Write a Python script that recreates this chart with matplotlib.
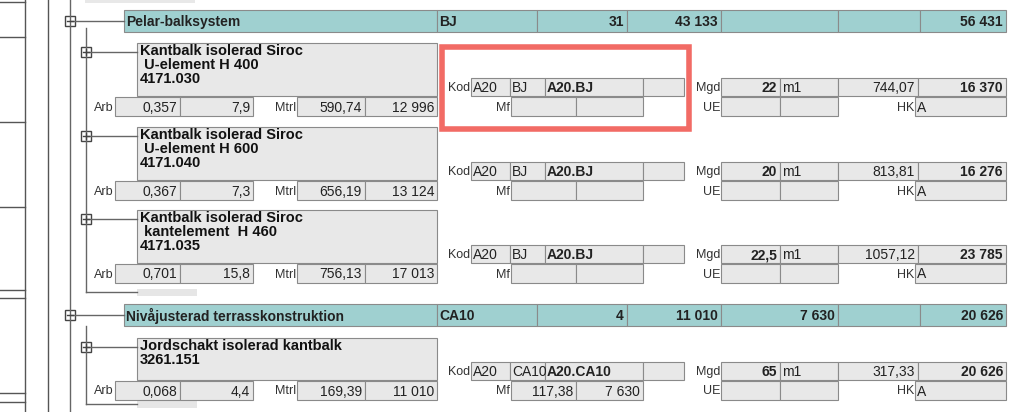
import matplotlib.pyplot as plt
from matplotlib.patches import Rectangle

plt.rcParams['font.family'] = ['Liberation Sans', 'DejaVu Sans']

# group headers: name, code, count, arb, mf, total
groups = [
    ('Pelar-balksystem', 'BJ', '31', '43 133', '', '56 431'),
    ('Nivåjusterad terrasskonstruktion', 'CA10', '4', '11 010', '7 630', '20 626'),
]
# items
item_names = [
    ['Kantbalk isolerad Siroc', ' U-element H 400', '4171.030'],
    ['Kantbalk isolerad Siroc', ' U-element H 600', '4171.040'],
    ['Kantbalk isolerad Siroc', ' kantelement  H 460', '4171.035'],
    ['Jordschakt isolerad kantbalk', '3261.151'],
]
arb_tim = ['0,357', '0,367', '0,701', '0,068']
arb_sum = ['7,9', '7,3', '15,8', '4,4']
mtrl_pris = ['590,74', '656,19', '756,13', '169,39']
mtrl_sum = ['12 996', '13 124', '17 013', '11 010']
kod2 = ['BJ', 'BJ', 'BJ', 'CA10']
kod_full = ['A20.BJ', 'A20.BJ', 'A20.BJ', 'A20.CA10']
mf_pris = ['', '', '', '117,38']
mf_sum = ['', '', '', '7 630']
mgd = ['22', '20', '22,5', '65']
a_pris = ['744,07', '813,81', '1057,12', '317,33']
totals = ['16 370', '16 276', '23 785', '20 626']

group_y = [10, 304]
item_top = [43, 127, 210, 338]
item_bot = [96, 180, 263, 380]

fig = plt.figure(figsize=(10.23, 4.12), dpi=100)
ax = fig.add_axes([0, 0, 1, 1])
ax.set_xlim(0, 1023)
ax.set_ylim(412, 0)
ax.axis('off')

GREY = '#e8e8e8'
EDGE = '#8a8a8a'
TEAL = '#9fd0d0'
FS = 10


def field(x0, x1, y0, y1, txt='', ha='right', bold=False, fc=GREY, fs=FS):
    ax.add_patch(Rectangle((x0, y0), x1 - x0, y1 - y0, fc=fc, ec=EDGE, lw=0.8))
    if txt:
        xt = x1 - 3 if ha == 'right' else x0 + 2
        ax.text(xt, (y0 + y1) / 2 + 1, txt, ha=ha, va='center', fontsize=fs,
                fontweight='bold' if bold else 'normal', color='#222222')


def label(x, y, txt):
    ax.text(x, y + 1, txt, ha='right', va='center', fontsize=9, color='#333333')


# left strip
ax.plot([25, 25], [0, 412], color='#555555', lw=1)
ax.plot([48, 48], [0, 412], color='#555555', lw=1)
for yy in [2, 37, 122, 207, 290, 298, 393, 402]:
    ax.plot([0, 25], [yy, yy], color='#555555', lw=1)

# tree lines
ax.plot([70, 70], [0, 412], color='#666666', lw=1)
ax.plot([86, 86], [28, 292], color='#666666', lw=1)
ax.plot([86, 137], [292, 292], color='#666666', lw=1)
ax.plot([86, 86], [326, 404], color='#666666', lw=1)
ax.plot([86, 137], [404, 404], color='#666666', lw=1)
ax.add_patch(Rectangle((85, 0), 110, 3, fc=GREY, ec='none'))
for yb in [289, 401]:
    ax.add_patch(Rectangle((137, yb), 60, 7, fc='#e6e6e6', ec='none'))

# groups
for g, y0 in zip(groups, group_y):
    y1 = y0 + 22
    ax.plot([70, 124], [(y0 + y1) / 2] * 2, color='#666666', lw=1)
    ax.add_patch(Rectangle((65, (y0 + y1) / 2 - 5), 10, 10, fc='white', ec='#444444', lw=1))
    ax.plot([67, 73], [(y0 + y1) / 2] * 2, color='#444444', lw=1)
    cells = [(124, 437, g[0], 'left'), (437, 537, g[1], 'left'), (537, 627, g[2], 'right'),
             (627, 721, g[3], 'right'), (721, 838, g[4], 'right'), (838, 920, '', 'right'),
             (920, 1006, g[5], 'right')]
    for x0, x1, t, ha in cells:
        field(x0, x1, y0, y1, t, ha=ha, bold=True, fc=TEAL, fs=10)

# items
for i in range(4):
    yt, yb = item_top[i], item_bot[i]
    ym = yt + 9
    ax.plot([86, 137], [ym, ym], color='#666666', lw=1)
    ax.add_patch(Rectangle((81, ym - 5), 10, 10, fc='white', ec='#444444', lw=1))
    ax.plot([83, 89], [ym, ym], color='#444444', lw=1)
    ax.plot([86, 86], [ym - 3, ym + 3], color='#444444', lw=1)
    ax.add_patch(Rectangle((137, yt), 300, yb - yt, fc=GREY, ec=EDGE, lw=0.8))
    ax.text(140, yt + 1, '\n'.join(item_names[i]), ha='left', va='top', fontsize=10.5,
            fontweight='bold', linespacing=1.02, color='#111111')
    # row 1 (Kod / Mgd)
    r0, r1 = yb - 18, yb
    label(470, (r0 + r1) / 2, 'Kod')
    field(471, 510, r0, r1, 'A20', ha='left')
    field(510, 545, r0, r1, kod2[i], ha='left')
    field(545, 643, r0, r1, kod_full[i], ha='left', bold=True)
    field(643, 684, r0, r1)
    label(720, (r0 + r1) / 2, 'Mgd')
    field(721, 780, r0, r1, mgd[i], bold=True)
    field(780, 838, r0, r1, 'm1', ha='left')
    field(838, 918, r0, r1, a_pris[i])
    field(918, 1006, r0, r1, totals[i], bold=True)
    # row 2 (Arb / Mtrl / Mf / UE / HK)
    s0, s1 = yb + 1, yb + 20
    label(114, (s0 + s1) / 2, 'Arb')
    field(115, 180, s0, s1, arb_tim[i])
    field(180, 253, s0, s1, arb_sum[i])
    label(296, (s0 + s1) / 2, 'Mtrl')
    field(297, 365, s0, s1, mtrl_pris[i])
    field(365, 437, s0, s1, mtrl_sum[i])
    label(510, (s0 + s1) / 2, 'Mf')
    field(511, 576, s0, s1, mf_pris[i])
    field(576, 643, s0, s1, mf_sum[i])
    label(720, (s0 + s1) / 2, 'UE')
    field(721, 780, s0, s1)
    field(780, 838, s0, s1)
    label(914, (s0 + s1) / 2, 'HK')
    field(915, 1006, s0, s1, 'A', ha='left')

# red highlight
ax.add_patch(Rectangle((442, 47), 247, 82, fc='none', ec='#f26b65', lw=4))

fig.savefig('out.png', dpi=100)
